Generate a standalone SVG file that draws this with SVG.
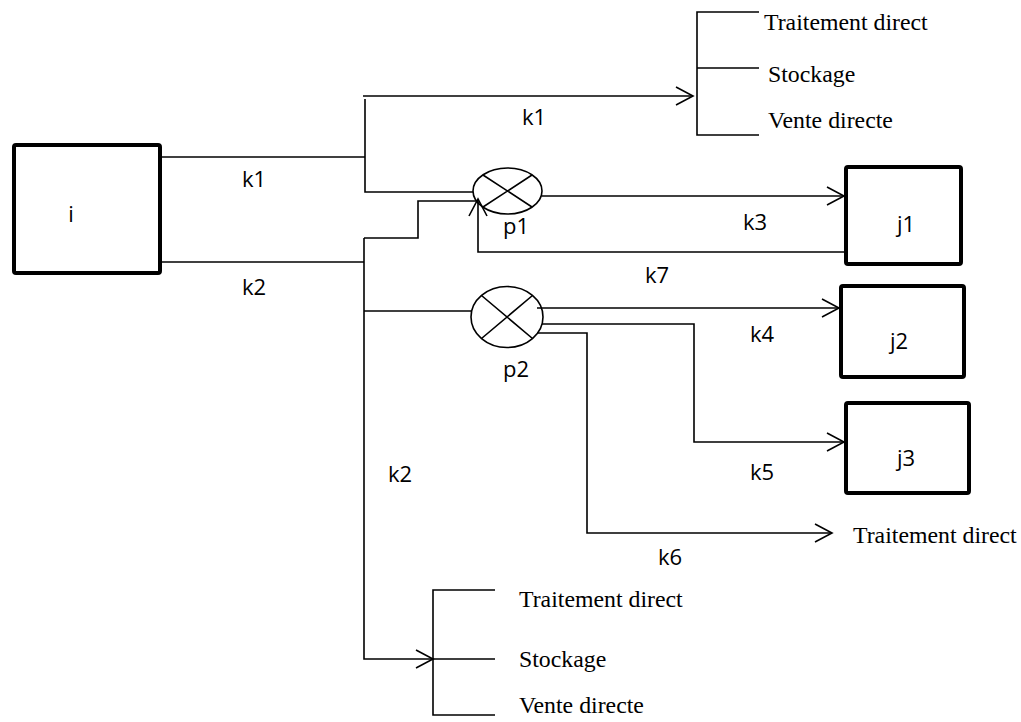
<svg xmlns="http://www.w3.org/2000/svg" width="1021" height="722" viewBox="0 0 1021 722">
<style>
.box{fill:#fff;stroke:#000;stroke-width:4}
.ln{fill:none;stroke:#000;stroke-width:1.6}
.arr{marker-end:url(#ah)}
.lbl{font-family:"Open Sans","Noto Sans",sans-serif;font-size:22px;fill:#000}
.tn{font-family:"Liberation Serif","Times New Roman",serif;font-size:23.8px;fill:#000}
</style>
<defs>
<marker id="ah" markerUnits="userSpaceOnUse" viewBox="-20 -12 24 24" markerWidth="24" markerHeight="24" refX="0" refY="0" orient="auto" overflow="visible">
<path d="M-17,-9 L0,0 L-17,9" fill="none" stroke="#000" stroke-width="1.6"/>
</marker>
</defs>
<rect width="1021" height="722" fill="#fff"/>
<g id="connectors">
<path class="ln" d="M162,157 H365"/>
<path class="ln" d="M365,99 V192 H473"/>
<path class="ln arr" d="M363,96 H693"/>
<path class="ln" d="M162,262 H364"/>
<path class="ln arr" d="M364,238 V659 H433"/>
<path class="ln" d="M364,238 H418 V201 H477"/>
<path class="ln arr" d="M542,196 H844"/>
<path class="ln arr" d="M844,252 H478 V199"/>
<path class="ln" d="M364,311 H471"/>
<path class="ln arr" d="M537,308 H839"/>
<path class="ln arr" d="M542,324 H694 V442 H844"/>
<path class="ln arr" d="M537,333 H587 V533 H832"/>
</g>
<g id="node-i">
<rect class="box" x="14" y="145" width="146" height="128" rx="2"/>
<text class="lbl" x="71" y="222" text-anchor="middle">i</text>
</g>
<g id="node-j1">
<rect class="box" x="846" y="167" width="115" height="97" rx="2"/>
<text class="lbl" x="897" y="232">j1</text>
</g>
<g id="node-j2">
<rect class="box" x="841" y="286" width="123" height="91" rx="2"/>
<text class="lbl" x="890" y="349">j2</text>
</g>
<g id="node-j3">
<rect class="box" x="846" y="403" width="123" height="90" rx="2"/>
<text class="lbl" x="897" y="466">j3</text>
</g>
<g id="node-p1">
<ellipse class="ln" cx="507.5" cy="191" rx="34.5" ry="23"/>
<path class="ln" d="M483,175 L532,207 M532,175 L483,207"/>
<text class="lbl" x="503" y="234">p1</text>
</g>
<g id="node-p2">
<ellipse class="ln" cx="507" cy="317" rx="36" ry="30.5"/>
<path class="ln" d="M481.5,295.5 L532.5,338.5 M532.5,295.5 L481.5,338.5"/>
<text class="lbl" x="503" y="377">p2</text>
</g>
<g id="node-top-dest">
<path class="ln" d="M759,12 H697 V135 H759 M697,68 H759"/>
<text class="tn" x="764" y="30">Traitement direct</text>
<text class="tn" x="768" y="82">Stockage</text>
<text class="tn" x="768" y="128">Vente directe</text>
</g>
<g id="node-bottom-dest">
<path class="ln" d="M495,590 H433 V715 H495 M433,659 H495"/>
<text class="tn" x="519" y="607">Traitement direct</text>
<text class="tn" x="519" y="667">Stockage</text>
<text class="tn" x="519" y="713">Vente directe</text>
</g>
<g id="node-k6-dest">
<text class="tn" x="853" y="543">Traitement direct</text>
</g>
<g id="labels">
<text class="lbl" x="242" y="187">k1</text>
<text class="lbl" x="242" y="295">k2</text>
<text class="lbl" x="522" y="125">k1</text>
<text class="lbl" x="743" y="230">k3</text>
<text class="lbl" x="645" y="283">k7</text>
<text class="lbl" x="750" y="342">k4</text>
<text class="lbl" x="750" y="480">k5</text>
<text class="lbl" x="658" y="565">k6</text>
<text class="lbl" x="388" y="482">k2</text>
</g>
</svg>
